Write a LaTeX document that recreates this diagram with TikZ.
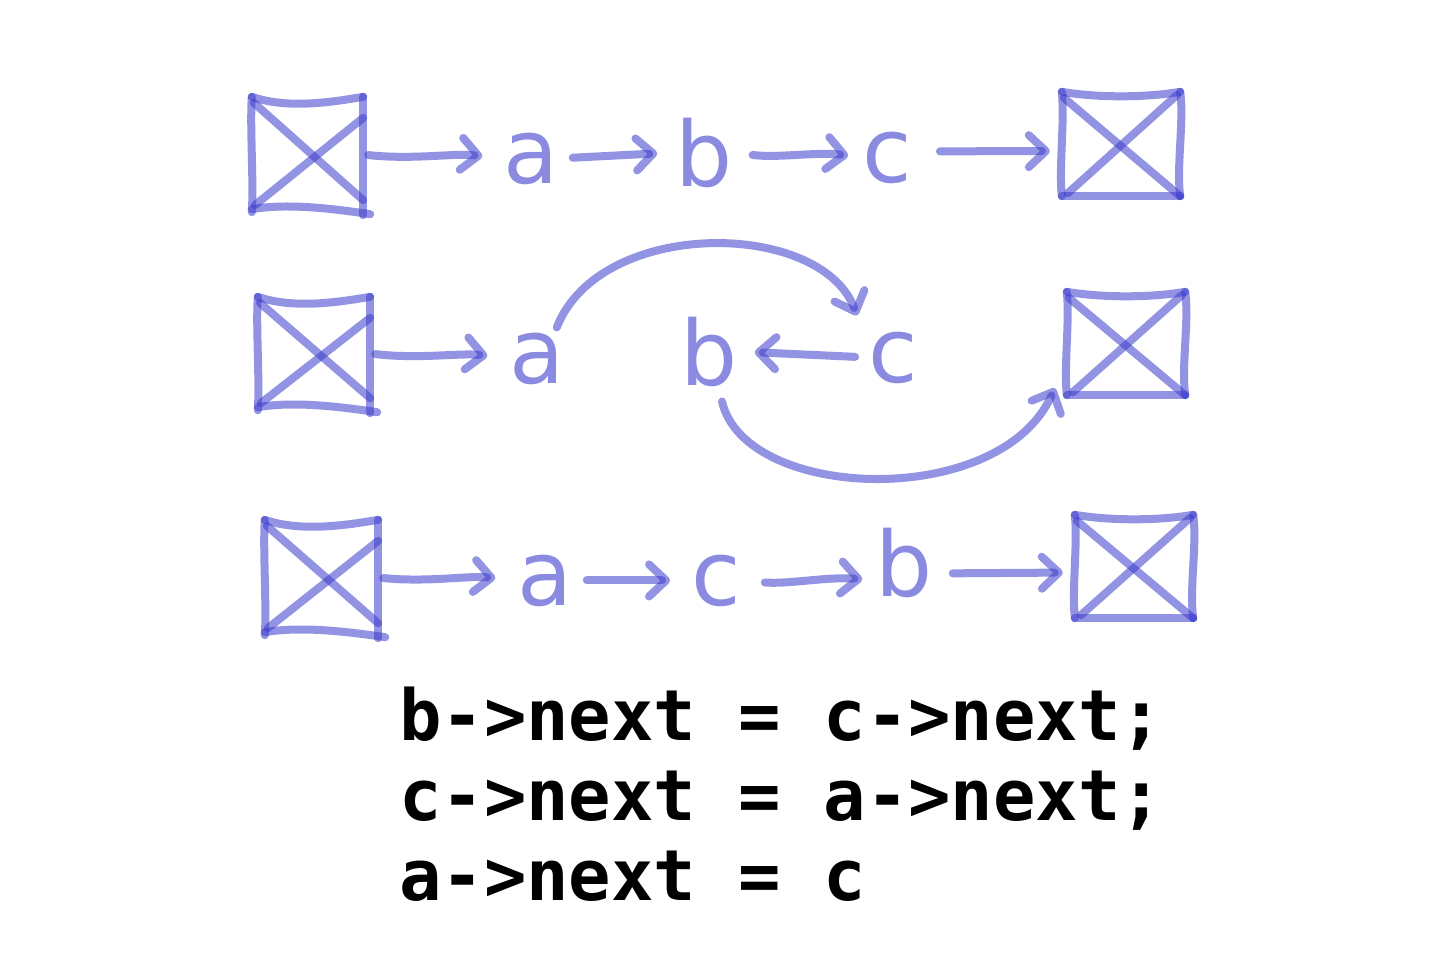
\documentclass[tikz,border=0pt]{standalone}
\usepackage{fontspec}
\newfontfamily\handfont{DejaVu Sans}
\newfontfamily\codefont{DejaVu Sans Mono}
\usetikzlibrary{arrows.meta,calc}
\definecolor{hand}{RGB}{60,60,205}
\newcommand\nullboxR[1]{%
 \draw[hand] (#1.north west) .. controls +(35,6) and +(-35,6) .. (#1.north east);
 \draw[hand] (#1.north east) .. controls +(4,30) and +(-4,-30) .. (#1.south east);
 \draw[hand] (#1.south east) .. controls +(-35,0) and +(35,0) .. (#1.south west);
 \draw[hand] (#1.south west) .. controls +(-3,-30) and +(3,30) .. (#1.north west);
 \draw[hand] ($(#1.north west)+(2,6)$) -- (#1.south east);
 \draw[hand] ($(#1.south west)+(6,-3)$) -- ($(#1.north east)+(-3,3)$);
}
\newcommand\nullboxL[1]{%
 \draw[hand] (#1.north west) .. controls +(35,12) and +(-35,6) .. (#1.north east);
 \draw[hand] (#1.north east) -- ($(#1.south east)+(0,3)$);
 \draw[hand] ($(#1.south east)+(7,2)$) .. controls +(-40,-6) and +(35,-6) .. ($(#1.south west)+(0,-3)$);
 \draw[hand] (#1.south west) .. controls +(2,-30) and +(-2,30) .. (#1.north west);
 \draw[hand] ($(#1.north west)+(2,6)$) -- ($(#1.south east)+(0,-12)$);
 \draw[hand] ($(#1.south west)+(3,-7)$) -- ($(#1.north east)+(0,21)$);
}
\begin{document}
\begin{tikzpicture}[x=1pt,y=-1pt,
  hand/.style={draw=hand, draw opacity=0.55, line width=8pt, line cap=round, line join=round},
  arr/.style={hand, -{Straight Barb[length=17pt,width=32pt,round]}},
  letter/.style={text=hand, text opacity=0.6, font=\handfont\fontsize{90}{90}\selectfont, inner sep=0pt, anchor=base},
  nullbox/.style={inner sep=0pt, draw=none, minimum width=#1},
  code/.style={font=\codefont\bfseries\fontsize{70.5}{80}\selectfont, anchor=base west, inner sep=0pt},
  wavy/.style={to path={.. controls ($(\tikztostart)!0.35!(\tikztotarget)+(0,#1)$) and ($(\tikztostart)!0.65!(\tikztotarget)+(0,-#1)$) .. (\tikztotarget) \tikztonodes}},
]
\useasboundingbox (0,0) rectangle (1439,977);
\fill[white] (0,0) rectangle (1439,977);

% boxes
\node[nullbox=111pt, minimum height=115pt] (L1) at (307.5,154.5) {};
\node[nullbox=118pt, minimum height=104pt] (R1) at (1121,144) {};
\node[nullbox=112pt, minimum height=113pt] (L2) at (314,353.5) {};
\node[nullbox=118pt, minimum height=103pt] (R2) at (1126,343.5) {};
\node[nullbox=113pt, minimum height=115pt] (L3) at (321.5,577.5) {};
\node[nullbox=118pt, minimum height=103pt] (R3) at (1134,566.5) {};
\nullboxL{L1}\nullboxR{R1}
\nullboxL{L2}\nullboxR{R2}
\nullboxL{L3}\nullboxR{R3}

% letters
\node[letter] (a1) at (531,183) {a};
\node[letter] (b1) at (704,186) {b};
\node[letter] (c1) at (887,182) {c};
\node[letter] (a2) at (537,383) {a};
\node[letter] (b2) at (709,385) {b};
\node[letter] (c2) at (893,382) {c};
\node[letter] (a3) at (545,605) {a};
\node[letter] (c3) at (716,605) {c};
\node[letter] (b3) at (904,596) {b};

% row 1
\draw[arr, shorten <=5pt, shorten >=21pt] (L1.east) to[wavy=4] (a1.west);
\draw[arr, shorten <=14pt, shorten >=18pt] (a1.east) -- (b1.west);
\draw[arr, shorten <=20pt, shorten >=14pt] (b1.east) to[wavy=4] (c1.west);
\draw[arr, shorten <=28pt, shorten >=12pt] ($(c1.east)+(0,-6)$) -- ($(R1.west)+(0,7)$);

% row 2
\draw[arr, shorten <=5pt, shorten >=22pt] (L2.east) to[wavy=4] (a2.west);
\draw[arr, shorten <=13pt, shorten >=17pt] (c2.west) -- (b2.east);
\draw[arr] ($(a2.north east)+(-8,-5)$) .. controls +(43,-110) and +(-37,-96) .. ($(c2.north west)+(-11,-16)$);
\draw[arr] ($(b2.south)+(13,15)$) .. controls +(23,100) and +(-55,122) .. ($(R2.south west)+(-12,-7)$);

% row 3
\draw[arr, shorten <=5pt, shorten >=22pt] (L3.east) to[wavy=4] (a3.west);
\draw[arr, shorten <=14pt, shorten >=21pt] (a3.east) -- (c3.west);
\draw[arr, shorten <=24pt, shorten >=13pt] (c3.east) to[wavy=4] (c3.east -| b3.west);
\draw[arr, shorten <=20pt, shorten >=12pt] ($(b3.east)+(0,11)$) -- ($(R3.west)+(0,6)$);

% code
\node[code] (code1) at (399,740) {b->next = c->next;};
\node[code] (code2) at (399,820) {c->next = a->next;};
\node[code] (code3) at (399,900) {a->next = c};
\end{tikzpicture}
\end{document}
